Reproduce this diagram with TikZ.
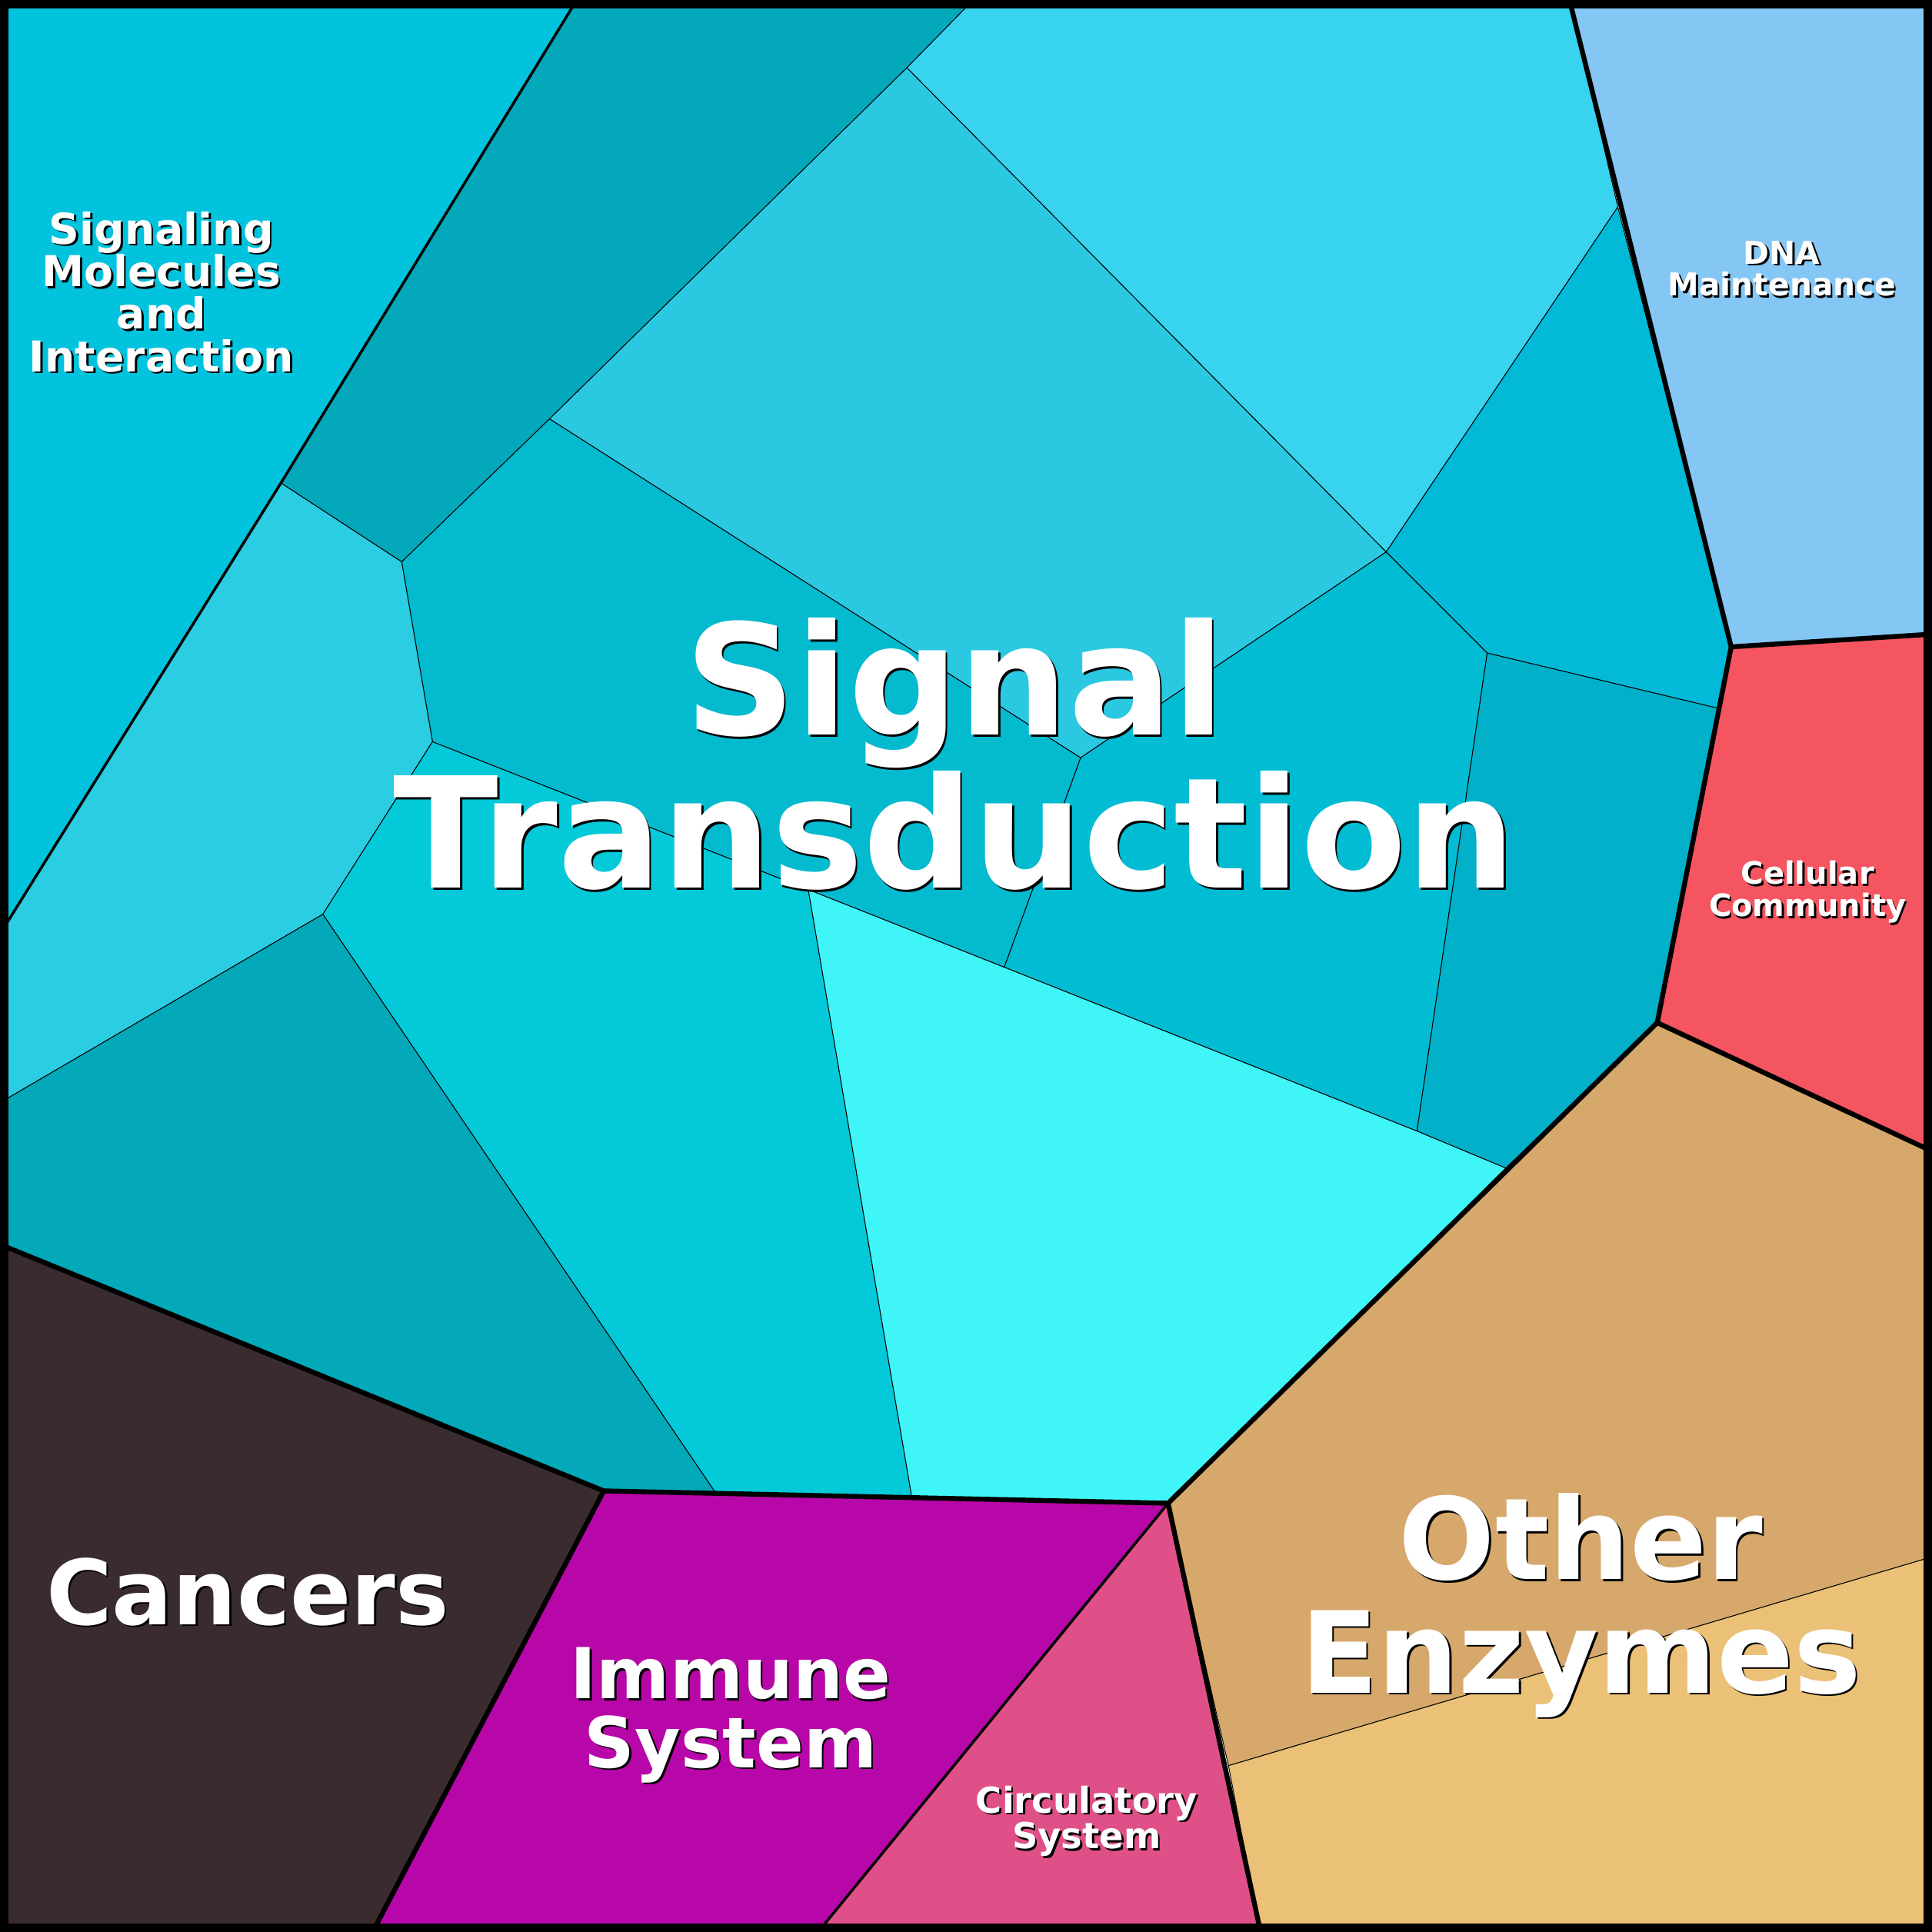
\documentclass[tikz,border=0pt]{standalone}
\usepackage{fontspec}
\setmainfont{DejaVu Sans}
\usetikzlibrary{calc}
\begin{document}
\begin{tikzpicture}[x=1pt,y=-1pt,
  cell/.style={draw=black,line width=0.6pt,line join=round},
  thick/.style={draw=black,line width=4pt,line join=round,line cap=round},
  med/.style={draw=black,line width=2.2pt,line join=round},
  lbl/.style={text=white,align=center,inner sep=0pt}]
\useasboundingbox (0,0) rectangle (1568,1568);
\newcommand{\mylab}[5]{%
  \node[lbl,text=black,font=\bfseries\fontsize{#3}{#4}\selectfont] at ($(#1)+(1.6,1.6)$) {#2};
  \node[lbl,font=\bfseries\fontsize{#3}{#4}\selectfont] (#5) at (#1) {#2};}
\definecolor{c1}{HTML}{02C3DD}\definecolor{c2}{HTML}{03A9BB}
\definecolor{c3}{HTML}{37D3EF}\definecolor{c4}{HTML}{2BC9E1}
\definecolor{c5}{HTML}{02BAD7}\definecolor{c6}{HTML}{02BCD3}
\definecolor{c7}{HTML}{02B0CA}\definecolor{c8}{HTML}{04BACF}
\definecolor{c9}{HTML}{2BCDE3}\definecolor{c10}{HTML}{04C9D8}
\definecolor{c11}{HTML}{40F5F8}\definecolor{c12}{HTML}{03A9B9}
\definecolor{can}{HTML}{3A2C2E}\definecolor{imm}{HTML}{B807A8}
\definecolor{cir}{HTML}{E05088}\definecolor{oe1}{HTML}{D6A86C}
\definecolor{oe2}{HTML}{EBC077}\definecolor{cel}{HTML}{F45560}
\definecolor{dna}{HTML}{84C6F4}
\fill[cell,fill=c1] (5,5)--(465,5)--(228,392)--(5,750)--cycle;
\fill[cell,fill=c2] (465,5)--(785,5)--(736,55)--(446,340)--(326,456)--(228,392)--cycle;
\fill[cell,fill=c3] (785,5)--(1275,5)--(1313,168)--(1125,448)--(736,55)--cycle;
\fill[cell,fill=c4] (736,55)--(1125,448)--(877,615)--(446,340)--cycle;
\fill[cell,fill=c5] (1313,168)--(1405,525)--(1395,575)--(1207,530)--(1125,448)--cycle;
\fill[cell,fill=c6] (1125,448)--(1207,530)--(1150,918)--(815,785)--(877,615)--cycle;
\fill[cell,fill=c7] (1207,530)--(1395,575)--(1345,830)--(1222,948)--(1150,918)--cycle;
\fill[cell,fill=c8] (446,340)--(877,615)--(815,785)--(656,722)--(351,602)--(326,456)--cycle;
\fill[cell,fill=c9] (228,392)--(326,456)--(351,602)--(262,742)--(5,892)--(5,750)--cycle;
\fill[cell,fill=c10] (351,602)--(656,722)--(740,1215)--(581,1212)--(262,742)--cycle;
\fill[cell,fill=c11] (656,722)--(815,785)--(1150,918)--(1222,948)--(948,1220)--(740,1215)--cycle;
\fill[cell,fill=c12] (5,892)--(262,742)--(581,1212)--(490,1210)--(5,1012)--cycle;
\fill[cell,fill=can] (5,1012)--(490,1210)--(305,1563)--(5,1563)--cycle;
\fill[cell,fill=imm] (490,1210)--(948,1220)--(668,1563)--(305,1563)--cycle;
\fill[cell,fill=cir] (948,1220)--(1022,1563)--(668,1563)--cycle;
\fill[cell,fill=oe1] (948,1220)--(1345,830)--(1563,932)--(1563,1265)--(997,1433)--cycle;
\fill[cell,fill=oe2] (997,1433)--(1563,1265)--(1563,1563)--(1022,1563)--cycle;
\fill[cell,fill=cel] (1405,525)--(1563,515)--(1563,932)--(1345,830)--cycle;
\fill[cell,fill=dna] (1275,5)--(1563,5)--(1563,515)--(1405,525)--cycle;
\draw[med] (465,5)--(228,392)--(5,750);
\draw[med] (948,1220)--(668,1563);
\draw[thick] (1275,5)--(1405,525)--(1563,515);
\draw[thick] (1405,525)--(1345,830)--(1563,932);
\draw[thick] (1345,830)--(948,1220)--(1022,1563);
\draw[thick] (948,1220)--(490,1210)--(5,1012);
\draw[thick] (490,1210)--(305,1563);
\draw[line width=7pt] (3.5,3.5) rectangle (1564.5,1564.5);
\mylab{775,612}{Signal\\Transduction}{125}{124}{st}
\mylab{1283,1303}{Other\\Enzymes}{92}{92}{oe}
\mylab{201,1292}{Cancers}{73}{80}{ca}
\mylab{593,1392}{Immune\\System}{57}{56}{im}
\mylab{882,1478}{Circulatory\\System}{29}{29}{ci}
\mylab{131,237}{Signaling\\Molecules\\and\\Interaction}{34.5}{34.5}{sm}
\mylab{1446,218}{DNA\\Maintenance}{25.5}{26}{dn}
\mylab{1467,724}{Cellular\\Community}{25}{26}{cc}
\end{tikzpicture}
\end{document}
